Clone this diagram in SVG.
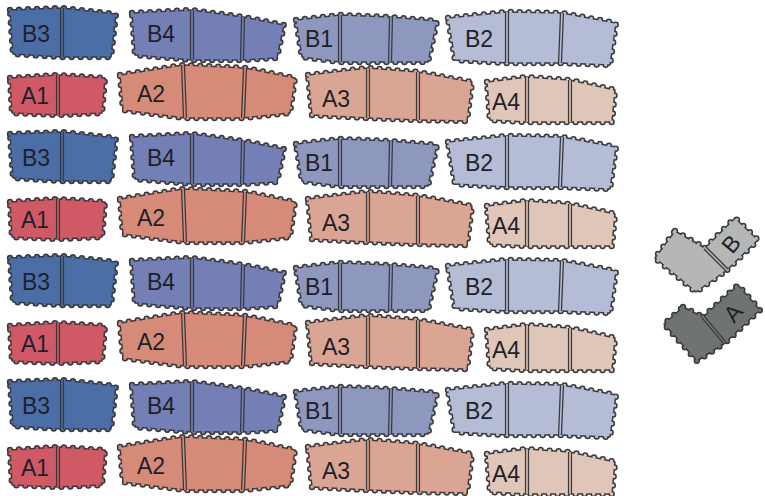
<svg xmlns="http://www.w3.org/2000/svg" width="765" height="496" viewBox="0 0 765 496">
<style>
.bo{fill:none;stroke:#3a3a3e;stroke-width:6.4;stroke-dasharray:0 9;stroke-linecap:round;stroke-linejoin:round}
.body{fill:currentColor;stroke:#3a3a3e;stroke-width:1.5;stroke-linejoin:round}
.bi{fill:none;stroke:currentColor;stroke-width:3.4;stroke-dasharray:0 9;stroke-linecap:round}
.dv{fill:none;stroke:#3a3a3e;stroke-width:4.2}
.dvi{fill:none;stroke:currentColor;stroke-width:1.6}
.lb{font-family:"Liberation Sans",Arial,sans-serif;font-size:23px;fill:#1e1f2a}
</style>
<defs>
<path id="sB3" d="M10,10 L62,8 L116,14 L111,57 L62,57 L13,54 Z"/>
<path id="sB4" d="M132,13 L192,10 L243,17 L284,25 L277,58 L242,60 L192,60 L135,55 Z"/>
<path id="sB1" d="M296,20 L340,15 L390,17 L437,21 L428,62 L390,62 L340,62 L302,57 Z"/>
<path id="sB2" d="M448,18 L507,12 L562,13 L616,23 L610,65 L560,63 L507,63 L455,60 Z"/>
<path id="sA1" d="M10,78 L58,75 L105,78 L102,113 L58,115 L12,113 Z"/>
<path id="sA2" d="M120,75 L183,65 L245,68 L295,78 L290,113 L243,118 L185,118 L123,110 Z"/>
<path id="sA3" d="M308,75 L368,68 L418,72 L472,82 L467,121 L418,120 L368,118 L312,115 Z"/>
<path id="sA4" d="M487,82 L527,77 L570,80 L615,90 L612,122 L570,122 L527,122 L490,120 Z"/>
<g id="tB3" style="color:#4b6ea6">
<use href="#sB3" class="bo"/><use href="#sB3" class="body"/><use href="#sB3" class="bi"/>
<path class="dv" d="M62,8 L62,57"/><path class="dvi" d="M62,8 L62,57"/>
<text class="lb" x="22" y="42">B3</text>
</g>
<g id="tB4" style="color:#7480b5">
<use href="#sB4" class="bo"/><use href="#sB4" class="body"/><use href="#sB4" class="bi"/>
<path class="dv" d="M192,10 L192,60 M243,17 L242,60"/><path class="dvi" d="M192,10 L192,60 M243,17 L242,60"/>
<text class="lb" x="147" y="42">B4</text>
</g>
<g id="tB1" style="color:#8e98bf">
<use href="#sB1" class="bo"/><use href="#sB1" class="body"/><use href="#sB1" class="bi"/>
<path class="dv" d="M340,15 L340,62 M391,17 L390,62"/><path class="dvi" d="M340,15 L340,62 M391,17 L390,62"/>
<text class="lb" x="305" y="47">B1</text>
</g>
<g id="tB2" style="color:#b5bcd5">
<use href="#sB2" class="bo"/><use href="#sB2" class="body"/><use href="#sB2" class="bi"/>
<path class="dv" d="M507,12 L507,63 M562,13 L560,63"/><path class="dvi" d="M507,12 L507,63 M562,13 L560,63"/>
<text class="lb" x="465" y="47">B2</text>
</g>
<g id="tA1" style="color:#cf5a66">
<use href="#sA1" class="bo"/><use href="#sA1" class="body"/><use href="#sA1" class="bi"/>
<path class="dv" d="M58,75 L58,115"/><path class="dvi" d="M58,75 L58,115"/>
<text class="lb" x="21" y="104">A1</text>
</g>
<g id="tA2" style="color:#d68b78">
<use href="#sA2" class="bo"/><use href="#sA2" class="body"/><use href="#sA2" class="bi"/>
<path class="dv" d="M183,65 L185,118 M245,68 L243,118"/><path class="dvi" d="M183,65 L185,118 M245,68 L243,118"/>
<text class="lb" x="137" y="102">A2</text>
</g>
<g id="tA3" style="color:#dba593">
<use href="#sA3" class="bo"/><use href="#sA3" class="body"/><use href="#sA3" class="bi"/>
<path class="dv" d="M368,68 L368,118 M418,72 L418,120"/><path class="dvi" d="M368,68 L368,118 M418,72 L418,120"/>
<text class="lb" x="322" y="107">A3</text>
</g>
<g id="tA4" style="color:#e0c6b8">
<use href="#sA4" class="bo"/><use href="#sA4" class="body"/><use href="#sA4" class="bi"/>
<path class="dv" d="M527,77 L527,122 M570,80 L570,122"/><path class="dvi" d="M527,77 L527,122 M570,80 L570,122"/>
<text class="lb" x="492" y="110">A4</text>
</g>
<path id="sPBb" d="M675,231 L705,248 L727,270 L696,292 L655,258 Z"/>
<path id="sPBs" d="M705,248 L735,218 L758,240 L727,270 Z"/>
<path id="sPAb" d="M683,307 L703,317 L725,343 L697,361 L664,324 Z"/>
<path id="sPAs" d="M703,317 L738,285 L760,310 L725,343 Z"/>
</defs>

<g id="row1" transform="translate(0,0)">
<g id="B3-1"><use href="#tB3"/></g><g id="B4-1"><use href="#tB4"/></g><g id="B1-1"><use href="#tB1"/></g><g id="B2-1"><use href="#tB2"/></g>
<g id="A1-1"><use href="#tA1"/></g><g id="A2-1"><use href="#tA2"/></g><g id="A3-1"><use href="#tA3"/></g><g id="A4-1"><use href="#tA4"/></g>
</g>
<g id="row2" transform="translate(0,124)">
<g id="B3-2"><use href="#tB3"/></g><g id="B4-2"><use href="#tB4"/></g><g id="B1-2"><use href="#tB1"/></g><g id="B2-2"><use href="#tB2"/></g>
<g id="A1-2"><use href="#tA1"/></g><g id="A2-2"><use href="#tA2"/></g><g id="A3-2"><use href="#tA3"/></g><g id="A4-2"><use href="#tA4"/></g>
</g>
<g id="row3" transform="translate(0,248)">
<g id="B3-3"><use href="#tB3"/></g><g id="B4-3"><use href="#tB4"/></g><g id="B1-3"><use href="#tB1"/></g><g id="B2-3"><use href="#tB2"/></g>
<g id="A1-3"><use href="#tA1"/></g><g id="A2-3"><use href="#tA2"/></g><g id="A3-3"><use href="#tA3"/></g><g id="A4-3"><use href="#tA4"/></g>
</g>
<g id="row4" transform="translate(0,372)">
<g id="B3-4"><use href="#tB3"/></g><g id="B4-4"><use href="#tB4"/></g><g id="B1-4"><use href="#tB1"/></g><g id="B2-4"><use href="#tB2"/></g>
<g id="A1-4"><use href="#tA1"/></g><g id="A2-4"><use href="#tA2"/></g><g id="A3-4"><use href="#tA3"/></g><g id="A4-4"><use href="#tA4"/></g>
</g>

<g id="piece-B" style="color:#b4b7b6">
<use href="#sPBb" class="bo"/><use href="#sPBs" class="bo"/>
<use href="#sPBb" class="body"/><use href="#sPBs" class="body"/>
<use href="#sPBb" class="bi"/><use href="#sPBs" class="bi"/>
<path class="dv" d="M705,248 L727,270"/><path class="dvi" d="M705,248 L727,270"/>
<text class="lb" x="731" y="244" text-anchor="middle" dominant-baseline="central" transform="rotate(-50 731 244)">B</text>
</g>
<g id="piece-A" style="color:#6f7473">
<use href="#sPAb" class="bo"/><use href="#sPAs" class="bo"/>
<use href="#sPAb" class="body"/><use href="#sPAs" class="body"/>
<use href="#sPAb" class="bi"/><use href="#sPAs" class="bi"/>
<path class="dv" d="M703,317 L725,343"/><path class="dvi" d="M703,317 L725,343"/>
<text class="lb" x="733" y="313" text-anchor="middle" dominant-baseline="central" transform="rotate(-50 733 313)">A</text>
</g>
</svg>
